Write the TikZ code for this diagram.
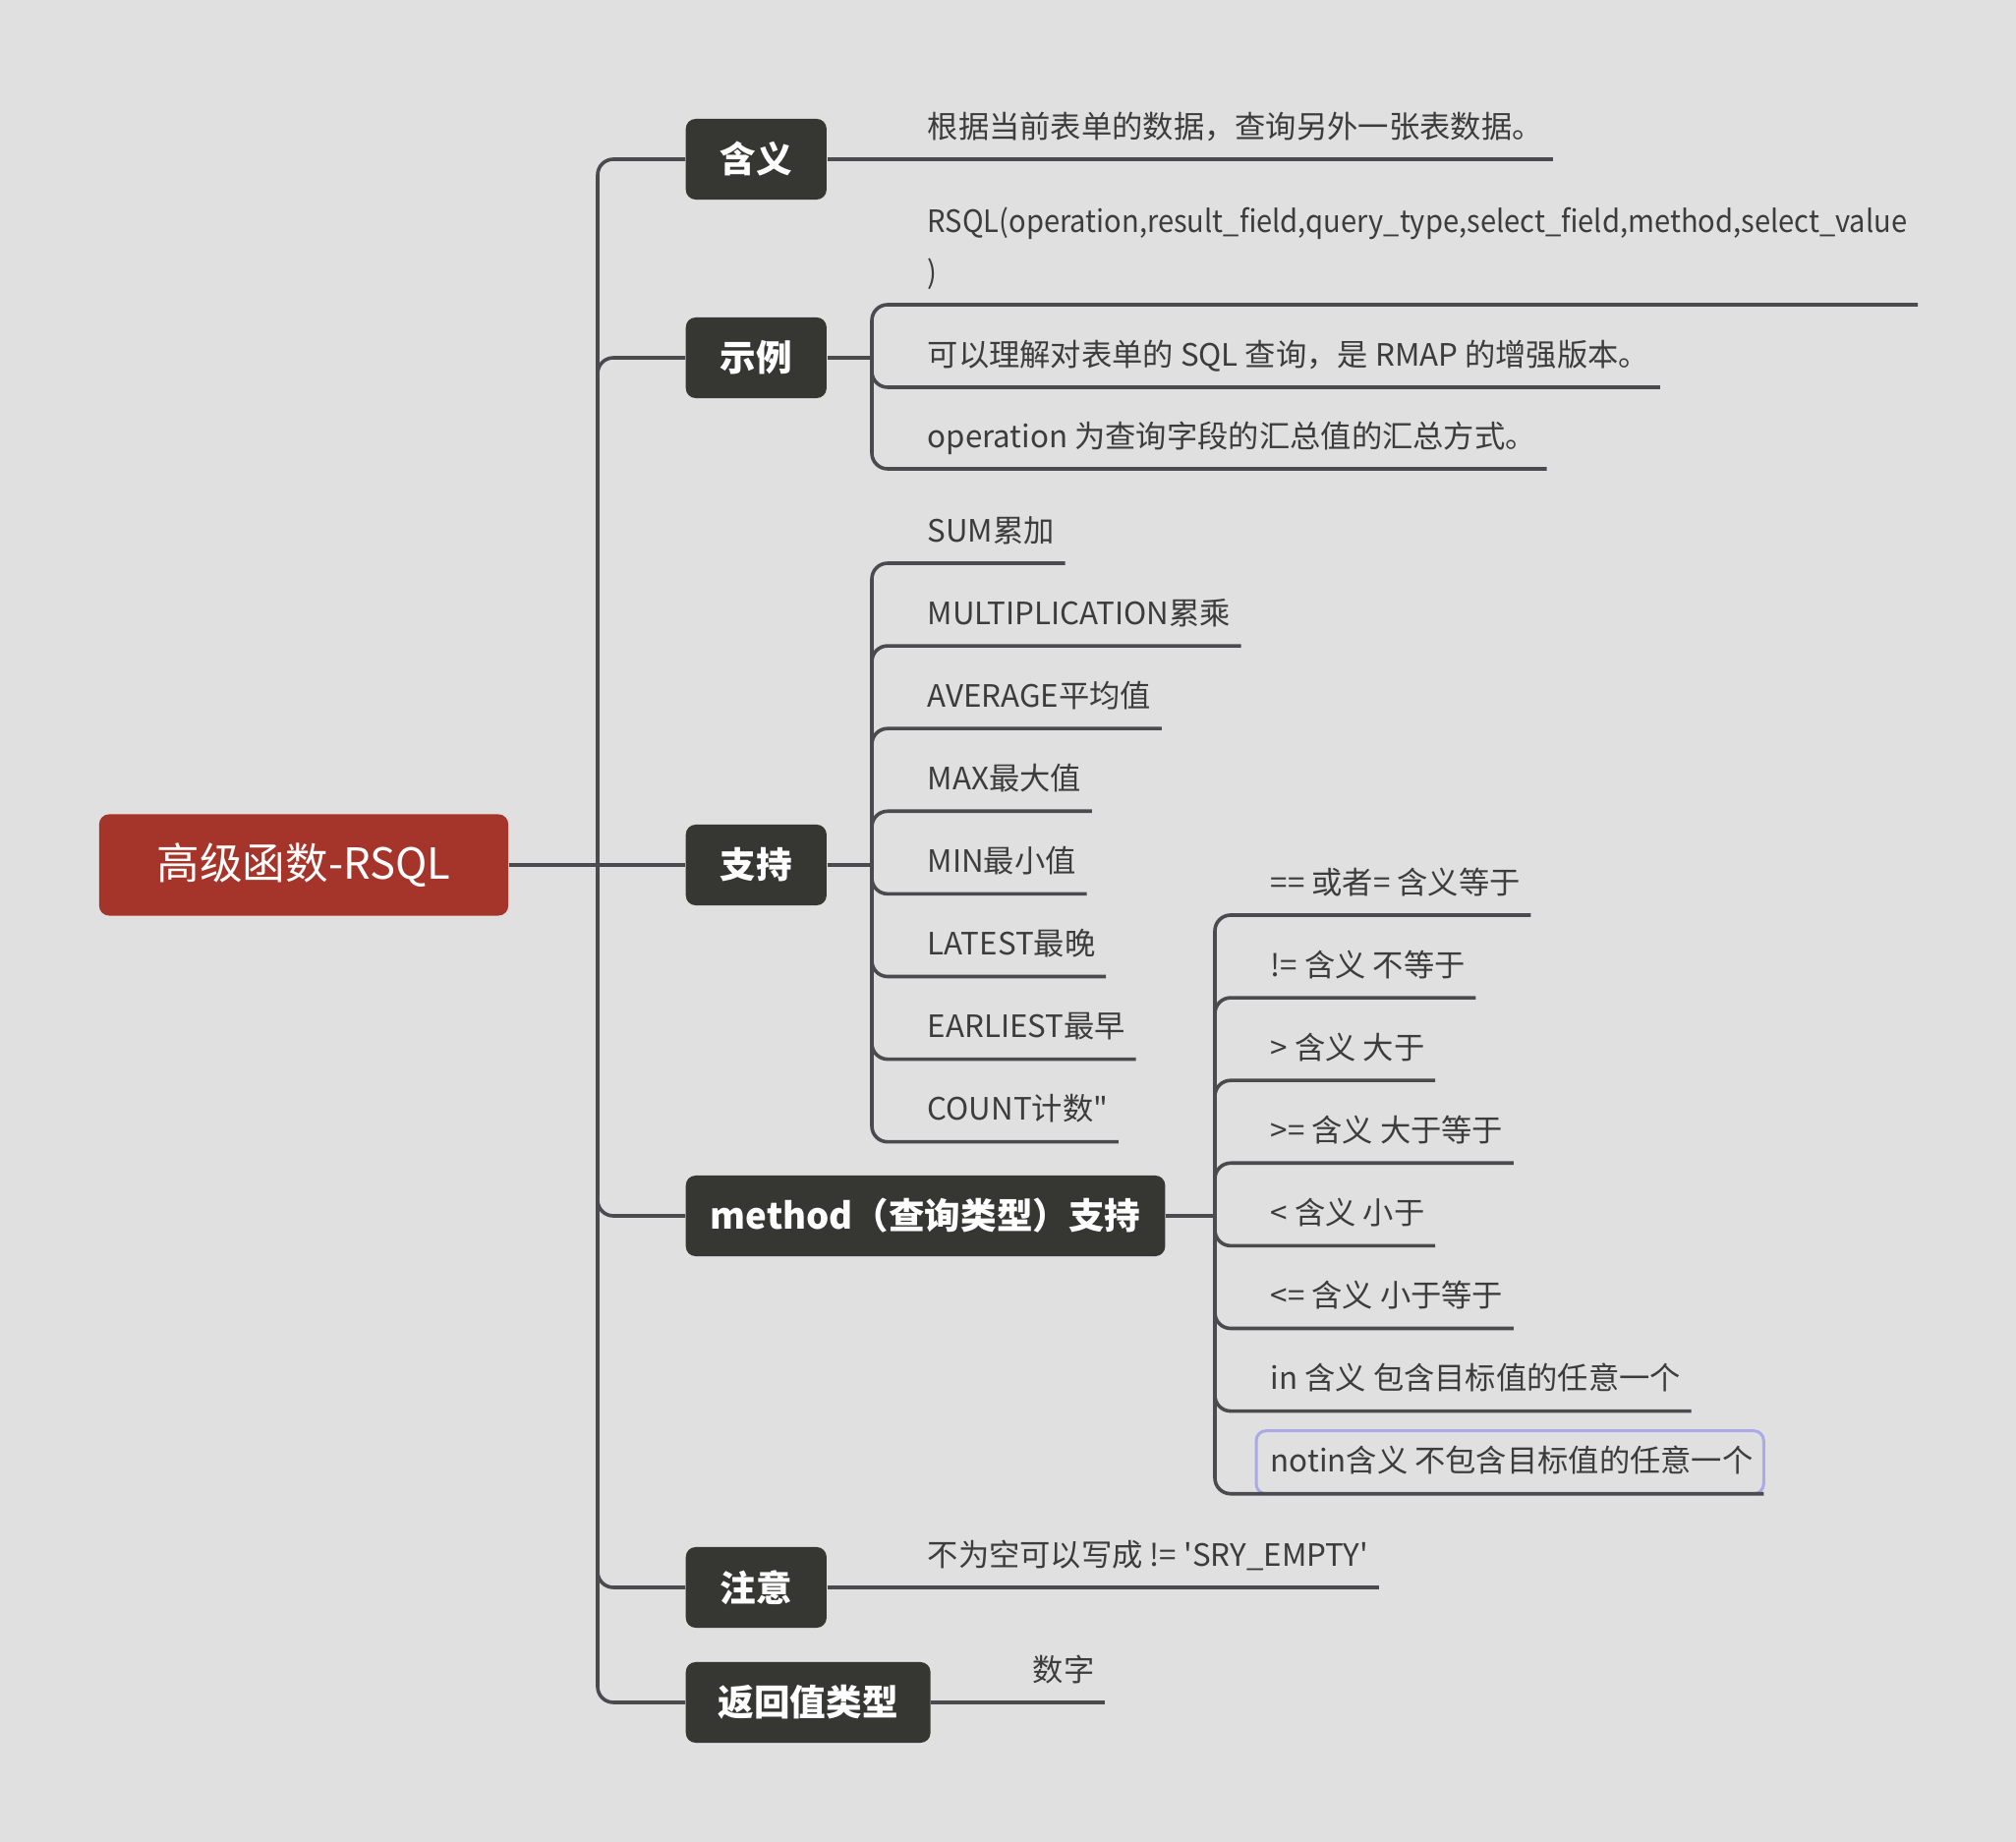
\documentclass[tikz,border=0pt]{standalone}
\usepackage{fontspec}
\setmainfont{Noto Sans CJK SC}
\definecolor{bg}{HTML}{E0E0E0}
\definecolor{rootred}{HTML}{A5352A}
\definecolor{topicgray}{HTML}{363632}
\definecolor{linegray}{HTML}{4A4A4F}
\definecolor{inkgray}{HTML}{3C3C3C}
\definecolor{pickblue}{HTML}{AAAAE6}
\tikzset{
  root/.style={fill=rootred, text=white, rounded corners=0.1cm, minimum width=4.16cm, minimum height=1.03cm, font=\fontsize{12.4}{15}\selectfont},
  topic/.style={anchor=west, fill=topicgray, text=white, rounded corners=0.1cm, minimum height=0.82cm, inner xsep=0.35cm, font=\bfseries\fontsize{10.4}{12}\selectfont},
  leaf/.style={anchor=south west, text=inkgray, inner xsep=0.1cm, inner ysep=0.21cm, text depth=0pt, font=\fontsize{8.9}{14.8}\selectfont},
  link/.style={draw=linegray, line width=0.036cm, rounded corners=0.16cm},
  pick/.style={draw=pickblue, line width=0.03cm, rounded corners=0.1cm}
}
\begin{document}
\begin{tikzpicture}[x=0.01cm, y=-0.01cm]
\useasboundingbox[fill=bg] (0,0) rectangle (2051,1874);

\node[root] (root) at (309,880) {高级函数-RSQL};
\node[topic] (hanyi) at (697,162) {含义};
\node[topic] (shili) at (697,364) {示例};
\node[topic] (zhichi) at (697,880) {支持};
\node[topic, inner xsep=0.25cm] (method) at (697,1237) {method（查询类型）支持};
\node[topic] (zhuyi) at (697,1615) {注意};
\node[topic, inner xsep=0.33cm] (fanhui) at (697,1732) {返回值类型};

\coordinate (tr) at (608,880);
\draw[link] (root.east) -- (tr);
\draw[link] (tr) -- (zhichi.west);
\foreach \n in {hanyi,shili,method,zhuyi,fanhui}
  \draw[link] (tr) |- (\n.west);

% 含义
\node[leaf] (h1) at (933,162) {根据当前表单的数据，查询另外一张表数据。};
\draw[link] (hanyi.east) -- (h1.south east);

% 示例
\coordinate (sb) at (887,364);
\draw[link] (shili.east) -- (sb);
\node[leaf, align=left, font=\fontsize{8.9}{14.8}\selectfont\addfontfeatures{FakeStretch=0.93}] (e1) at (933,310) {RSQL(operation,result\_field,query\_type,select\_field,method,select\_value\\)};
\node[leaf] (e2) at (933,394) {可以理解对表单的 SQL 查询，是 RMAP 的增强版本。};
\node[leaf] (e3) at (933,477) {operation 为查询字段的汇总值的汇总方式。};
\foreach \i in {1,2,3}
  \draw[link] (sb) |- (e\i.south east);

% 支持
\coordinate (zb) at (887,880);
\draw[link] (zhichi.east) -- (zb);
\foreach \t [count=\i] in {SUM累加, MULTIPLICATION累乘, AVERAGE平均值, MAX最大值, MIN最小值, LATEST最晚, EARLIEST最早, COUNT计数\textquotedbl}{
  \node[leaf] (z\i) at (933,{573+84.1*(\i-1)}) {\t};
  \draw[link] (zb) |- (z\i.south east);
}

% method
\coordinate (mb) at (1236,1237);
\draw[link] (method.east) -- (mb);
\foreach \t [count=\i] in {== 或者= 含义等于, != 含义 不等于, > 含义 大于, >= 含义 大于等于, < 含义 小于, <= 含义 小于等于, in 含义 包含目标值的任意一个, notin含义 不包含目标值的任意一个}
  \node[leaf] (m\i) at (1282,{931+84.1*(\i-1)}) {\t};
\draw[pick] ([xshift=-0.04cm]m8.south west) rectangle ([yshift=0.64cm]m8.south east);
\foreach \i in {1,...,8}
  \draw[link] (mb) |- (m\i.south east);

% 注意
\node[leaf] (n1) at (933,1615) {不为空可以写成 != \textquotesingle SRY\_EMPTY\textquotesingle};
\draw[link] (zhuyi.east) -- (n1.south east);

% 返回值类型
\node[leaf] (f1) at (1040,1732) {数字};
\draw[link] (fanhui.east) -- (f1.south east);
\end{tikzpicture}
\end{document}
